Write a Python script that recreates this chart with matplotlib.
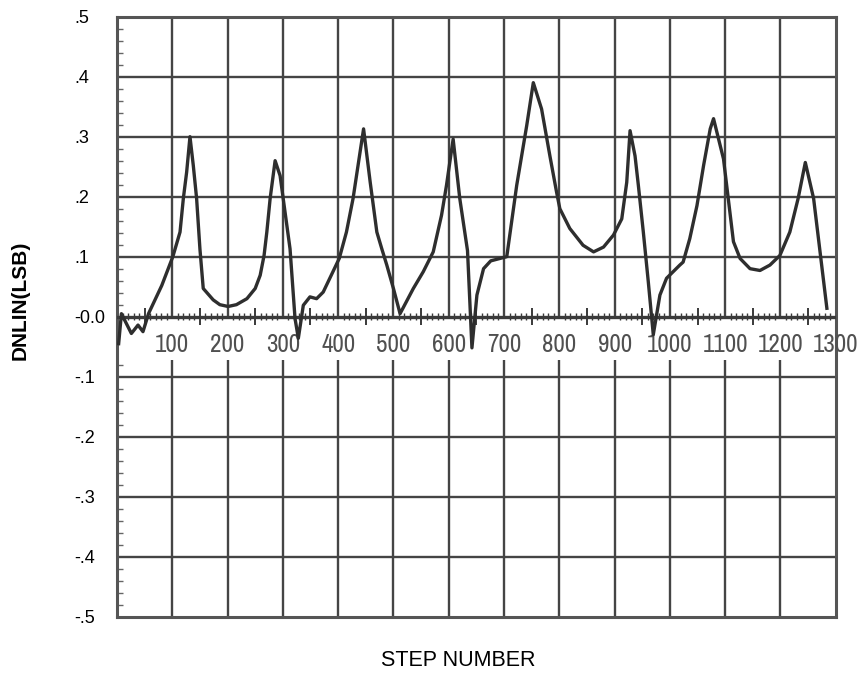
import numpy as np
import matplotlib
matplotlib.use("Agg")
import matplotlib.pyplot as plt
from matplotlib.patches import Rectangle

# ---- data ----
step = [3, 8, 26, 38, 47, 57, 81, 101, 114, 120, 126, 132, 138, 144, 150, 156,
        174, 186, 201, 216, 235, 250, 259, 266, 271, 277, 286, 295, 304, 313,
        322, 328, 337, 349, 361, 373, 402, 415, 427, 436, 446, 458, 470, 479,
        488, 500, 512, 536, 554, 572, 587, 596, 608, 620, 634, 642, 651, 663,
        676, 705, 723, 741, 753, 768, 783, 795, 801, 819, 843, 862, 880, 898,
        913, 922, 928, 937, 943, 952, 961, 970, 982, 994, 1018, 1024, 1036,
        1049, 1061, 1073, 1079, 1097, 1115, 1127, 1145, 1163, 1181, 1199, 1217,
        1232, 1245, 1260, 1284]
dnlin = [-0.045, 0.005, -0.028, -0.014, -0.025, 0.005, 0.052, 0.100, 0.141,
         0.197, 0.241, 0.300, 0.252, 0.197, 0.113, 0.047, 0.028, 0.020, 0.017,
         0.020, 0.030, 0.047, 0.069, 0.102, 0.141, 0.197, 0.260, 0.235, 0.174,
         0.113, -0.003, -0.036, 0.019, 0.033, 0.030, 0.041, 0.097, 0.141, 0.197,
         0.252, 0.313, 0.224, 0.141, 0.113, 0.086, 0.047, 0.005, 0.047, 0.075,
         0.108, 0.169, 0.219, 0.296, 0.197, 0.110, -0.052, 0.036, 0.080, 0.093,
         0.100, 0.219, 0.318, 0.390, 0.346, 0.268, 0.208, 0.180, 0.147, 0.119,
         0.108, 0.116, 0.136, 0.163, 0.224, 0.310, 0.268, 0.219, 0.141, 0.058,
         -0.030, 0.036, 0.064, 0.086, 0.091, 0.130, 0.185, 0.252, 0.313, 0.330,
         0.263, 0.125, 0.097, 0.080, 0.077, 0.086, 0.102, 0.141, 0.197, 0.257,
         0.197, 0.014]

x_ticks = [100, 200, 300, 400, 500, 600, 700, 800, 900, 1000, 1100, 1200, 1300]
x_tick_labels = [str(v) for v in x_ticks]
y_ticks = [0.5, 0.4, 0.3, 0.2, 0.1, 0.0, -0.1, -0.2, -0.3, -0.4, -0.5]
y_tick_labels = [".5", ".4", ".3", ".2", ".1", "-0.0", "-.1", "-.2", "-.3", "-.4", "-.5"]

plt.rcParams['font.family'] = ['Liberation Sans', 'DejaVu Sans']

fig = plt.figure(figsize=(8.59, 6.75), dpi=100)
ax = fig.add_axes([0.1362, 0.0864, 0.8367, 0.8889])
ax.set_xlim(0, 1300)
ax.set_ylim(-0.5, 0.5)

gridc = "#444444"
for v in x_ticks[:-1]:
    ax.axvline(v, color=gridc, lw=1.7, zorder=1)
for v in y_ticks[1:-1]:
    if v != 0.0:
        ax.axhline(v, color=gridc, lw=1.7, zorder=1)

ax.add_patch(Rectangle((0, -0.073), 1300, 0.07, facecolor="white",
                       edgecolor="none", zorder=2))

ax.axhline(0.0, color="#3a3a3a", lw=2.4, zorder=3)
minor_x = np.arange(10, 1300, 10)
small = [v for v in minor_x if v % 50 != 0]
mid = [v for v in minor_x if v % 50 == 0 and v % 100 != 0]
ax.vlines(small, -0.006, 0.006, color="#3a3a3a", lw=1.0, zorder=3)
ax.vlines(mid, -0.014, 0.014, color="#3a3a3a", lw=1.4, zorder=3)

for v, lab in zip(x_ticks, x_tick_labels):
    ax.text(v, -0.047, lab, ha="center", va="center", fontsize=18,
            family=["Archivo Narrow", "Liberation Sans", "DejaVu Sans"],
            color="#505050", zorder=4, clip_on=False)

ax.plot(step, dnlin, color="#2e2e2e", lw=2.4, zorder=5, solid_joinstyle="round")

for s in ax.spines.values():
    s.set_color("#555555")
    s.set_linewidth(2.2)

ax.set_xticks([])
ax.set_yticks(y_ticks)
ax.set_yticklabels(y_tick_labels, fontsize=13, ha="left")
ax.set_yticks(np.arange(-0.5, 0.501, 0.02), minor=True)
ax.tick_params(axis="y", which="major", direction="in", length=0, pad=31)
ax.tick_params(axis="y", which="minor", direction="in", length=4, width=1.0,
               color="#666666")

fig.text(0.024, 0.555, "DNLIN(LSB)", rotation=90, ha="center", va="center",
         fontsize=15, fontweight="bold")
fig.text(0.534, 0.021, "STEP NUMBER", ha="center", va="center", fontsize=15.5)

fig.savefig("out.png", dpi=100)
